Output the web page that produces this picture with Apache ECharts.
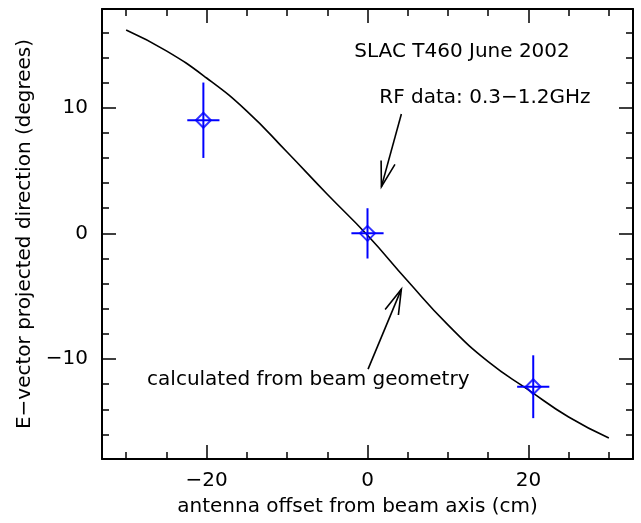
<!DOCTYPE html>
<html>
<head>
<meta charset="utf-8">
<script src="https://cdn.jsdelivr.net/npm/echarts@6/dist/echarts.min.js"></script>
<style>html,body{margin:0;padding:0;background:#fff}#c{width:641px;height:523px}</style>
</head>
<body>
<div id="c"></div>
<script>
// ---- data ----
const curveX = [-30, -25, -20, -15, -10, -5, 0, 5, 10, 15, 20, 25, 30];
const curveY = [16.18, 14.52, 12.36, 9.73, 6.47, 3.11, -0.15, -3.79, -7.28, -10.21, -12.45, -14.61, -16.28];
const ptX = [-20.4, 0, 20.6];
const ptY = [9, 0, -12.2];
const ptXErr = [2, 2, 2];
const ptYErr = [3, 2, 2.5];
const xMajorTicks = [-20, 0, 20];
const xMinorTicks = [-30, -25, -20, -15, -10, -5, 0, 5, 10, 15, 20, 25, 30];
const yMajorTicks = [-10, 0, 10];
const yMinorTicks = [-16, -14, -12, -10, -8, -6, -4, -2, 0, 2, 4, 6, 8, 10, 12, 14, 16];
const noteText = ['SLAC T460 June 2002', 'RF data: 0.3\u22121.2GHz', 'calculated from beam geometry'];
const noteX = [11.75, 14.6, -7.36];
const noteY = [14.45, 10.75, -11.65];
const arrowFrom = [[4.21, 9.5], [0.07, -10.8]];
const arrowTo = [[1.73, 3.72], [4.21, -4.44]];
const xTitle = 'antenna offset from beam axis (cm)';
const yTitle = 'E\u2212vector projected direction (degrees)';

const FONT = 'DejaVu Sans';
const FS = 20;
const X_MIN = -33, X_MAX = 33, Y_MIN = -17.95, Y_MAX = 17.85;
const fmt = v => String(v).replace('-', '\u2212');

function xAx(pos, ticks, len, labels, line) {
  return {
    type: 'value', position: pos, min: X_MIN, max: X_MAX,
    axisLine: {show: line, onZero: false, lineStyle: {color: '#000', width: 2}},
    axisTick: {show: true, inside: true, length: len, customValues: ticks, lineStyle: {color: '#000', width: 1.5}},
    axisLabel: {show: labels, customValues: xMajorTicks, formatter: fmt, margin: 12,
      fontFamily: FONT, fontSize: FS, color: '#000'},
    splitLine: {show: false}
  };
}
function yAx(pos, ticks, len, labels, line) {
  return {
    type: 'value', position: pos, min: Y_MIN, max: Y_MAX,
    axisLine: {show: line, onZero: false, lineStyle: {color: '#000', width: 2}},
    axisTick: {show: true, inside: true, length: len, customValues: ticks, lineStyle: {color: '#000', width: 1.5}},
    axisLabel: {show: labels, customValues: yMajorTicks, formatter: fmt, margin: 14,
      fontFamily: FONT, fontSize: FS, color: '#000'},
    splitLine: {show: false}
  };
}

const xAxes = [
  xAx('bottom', xMajorTicks, 14, true, true),
  xAx('bottom', xMinorTicks, 7, false, false),
  xAx('top', xMajorTicks, 14, false, true),
  xAx('top', xMinorTicks, 7, false, false)
];
xAxes[0].name = xTitle;
xAxes[0].nameLocation = 'middle';
xAxes[0].nameGap = 38;
xAxes[0].nameTextStyle = {fontFamily: FONT, fontSize: FS, color: '#000', padding: [0, 20, 0, 0]};

const yAxes = [
  yAx('left', yMajorTicks, 14, true, true),
  yAx('left', yMinorTicks, 7, false, false),
  yAx('right', yMajorTicks, 14, false, true),
  yAx('right', yMinorTicks, 7, false, false)
];
yAxes[0].name = yTitle;
yAxes[0].nameLocation = 'middle';
yAxes[0].nameGap = 66;
yAxes[0].nameTextStyle = {fontFamily: FONT, fontSize: FS, color: '#000'};

const chart = echarts.init(document.getElementById('c'), null, {renderer: 'canvas'});
chart.setOption({
  animation: false,
  backgroundColor: '#fff',
  grid: {left: 102, right: 8, top: 9, bottom: 64},
  xAxis: xAxes,
  yAxis: yAxes,
  series: [
    {
      type: 'line', name: 'calc', smooth: 0.5, symbol: 'none',
      data: curveX.map((x, i) => [x, curveY[i]]),
      lineStyle: {color: '#000', width: 1.6}, z: 2
    },
    {
      type: 'custom', name: 'errors',
      data: ptX.map((x, i) => [x, ptY[i], ptXErr[i], ptYErr[i]]),
      renderItem: function (params, api) {
        const x = api.value(0), y = api.value(1), ex = api.value(2), ey = api.value(3);
        const l = api.coord([x - ex, y]), r = api.coord([x + ex, y]);
        const t = api.coord([x, y + ey]), b = api.coord([x, y - ey]);
        const st = {stroke: '#0000ff', lineWidth: 2};
        return {type: 'group', children: [
          {type: 'line', shape: {x1: l[0], y1: l[1], x2: r[0], y2: r[1]}, style: st},
          {type: 'line', shape: {x1: t[0], y1: t[1], x2: b[0], y2: b[1]}, style: st}
        ]};
      }, z: 3
    },
    {
      type: 'scatter', name: 'points', symbol: 'diamond', symbolSize: 15,
      data: ptX.map((x, i) => [x, ptY[i]]),
      itemStyle: {color: 'rgba(0,0,0,0)', borderColor: '#0000ff', borderWidth: 2}, z: 4
    },
    {
      type: 'custom', name: 'arrows',
      data: arrowFrom.map((f, i) => [f[0], f[1], arrowTo[i][0], arrowTo[i][1]]),
      renderItem: function (params, api) {
        const a = api.coord([api.value(0), api.value(1)]);
        const b = api.coord([api.value(2), api.value(3)]);
        const ang = Math.atan2(b[1] - a[1], b[0] - a[0]);
        const L = 26, h = 0.28;
        const p1 = [b[0] - L * Math.cos(ang - h), b[1] - L * Math.sin(ang - h)];
        const p2 = [b[0] - L * Math.cos(ang + h), b[1] - L * Math.sin(ang + h)];
        const st = {stroke: '#000', lineWidth: 1.6, fill: null};
        return {type: 'group', children: [
          {type: 'line', shape: {x1: a[0], y1: a[1], x2: b[0], y2: b[1]}, style: st},
          {type: 'polyline', shape: {points: [p1, b, p2]}, style: st}
        ]};
      }, z: 5
    },
    {
      type: 'custom', name: 'notes',
      data: noteX.map((x, i) => [x, noteY[i]]),
      renderItem: function (params, api) {
        const p = api.coord([api.value(0), api.value(1)]);
        return {type: 'text', x: p[0], y: p[1], style: {
          text: noteText[params.dataIndex], fill: '#000', font: FS + 'px "' + FONT + '"',
          align: 'center', verticalAlign: 'middle'}};
      }, z: 6
    }
  ]
});
</script>
</body>
</html>
